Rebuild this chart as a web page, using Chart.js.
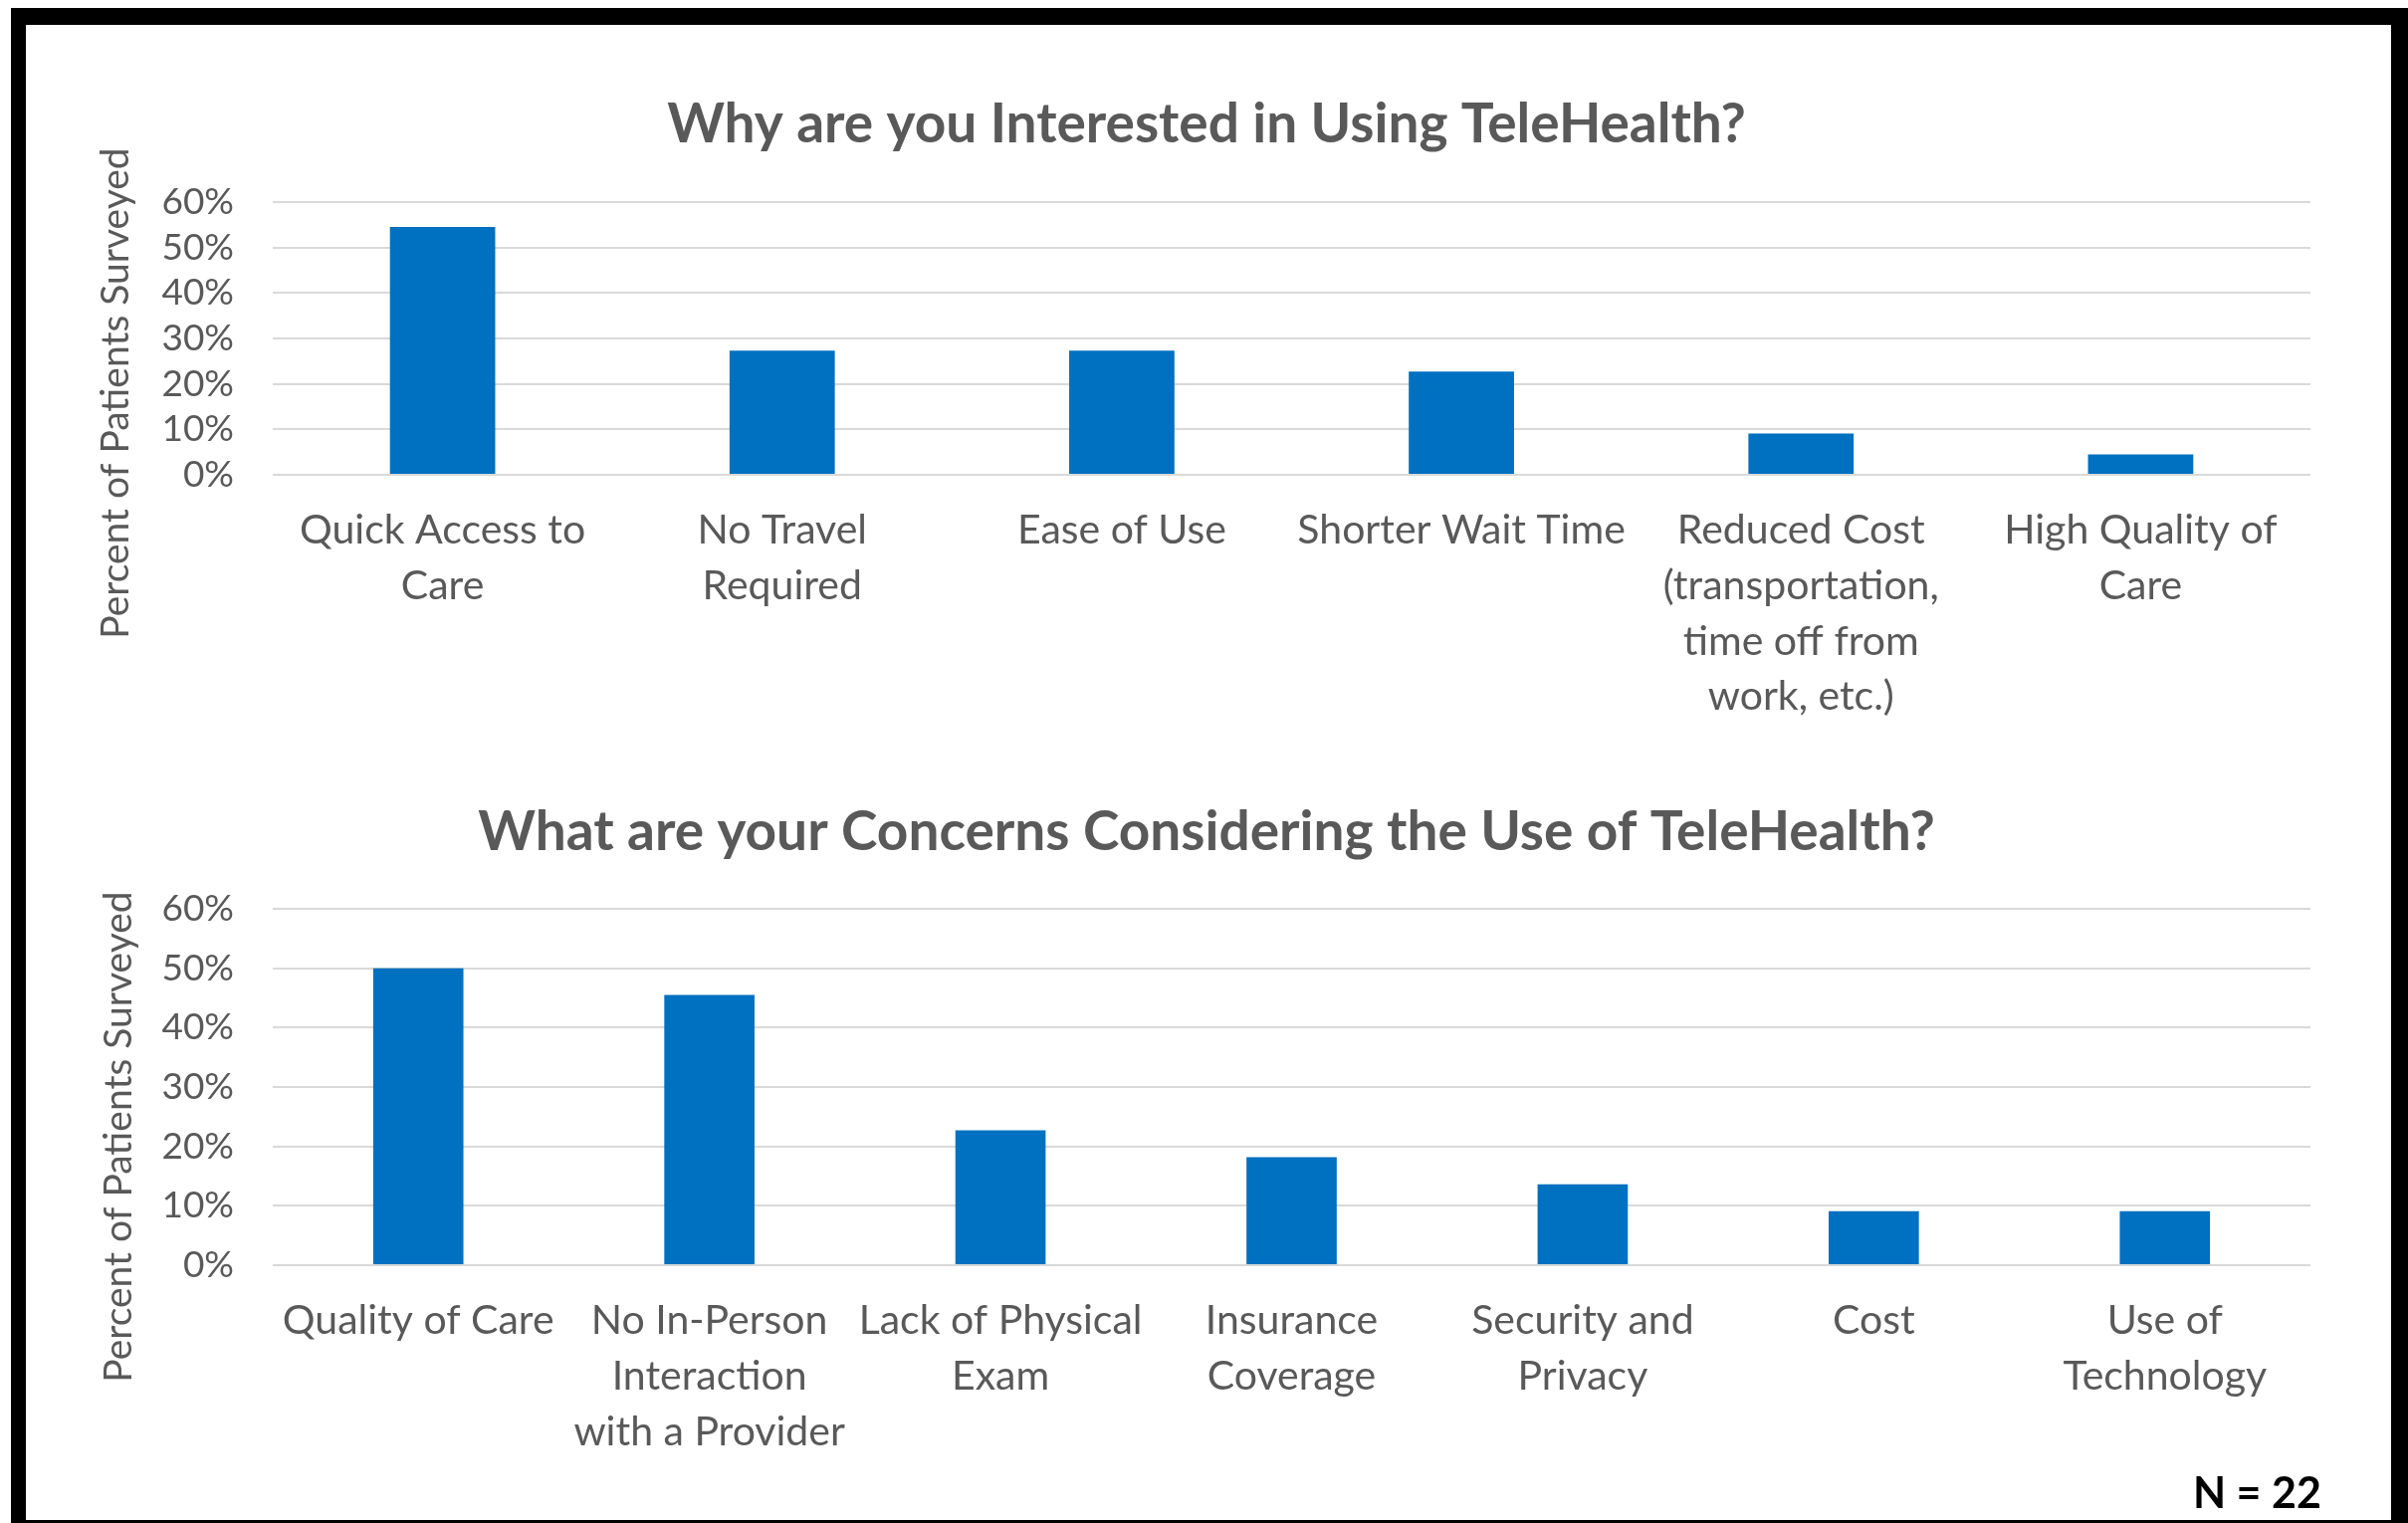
<!DOCTYPE html>
<html>
<head>
<meta charset="utf-8">
<script src="https://cdn.jsdelivr.net/npm/chart.js@4.4.1/dist/chart.umd.min.js"></script>
<style>
  html, body { margin: 0; padding: 0; background: #fff; }
  body { width: 2419px; height: 1530px; position: relative; overflow: hidden; }
  .frame {
    position: absolute; left: 11px; top: 8px; width: 2408px; height: 1522px;
    box-sizing: border-box; border-style: solid; border-color: #000;
    border-width: 17px 17px 3px 15px;
  }
  canvas { position: absolute; left: 0; }
  #interest { top: 0; }
  #concern { top: 765px; }
  .n { position: absolute; left: 2203px; top: 1473px; font: bold 43px Lato; color: #000; }
</style>
</head>
<body>
<div class="frame"></div>
<canvas id="interest" width="2419" height="765"></canvas>
<canvas id="concern" width="2419" height="765"></canvas>
<div class="n">N = 22</div>
<script>
// survey results, percent of the 22 patients
const interestLabels = [
  ['Quick Access to', 'Care'],
  ['No Travel', 'Required'],
  ['Ease of Use'],
  ['Shorter Wait Time'],
  ['Reduced Cost', '(transportation,', 'time off from', 'work, etc.)'],
  ['High Quality of', 'Care']
];
const interestValues = [54.5, 27.3, 27.3, 22.7, 9.1, 4.5];

const concernLabels = [
  ['Quality of Care'],
  ['No In-Person', 'Interaction', 'with a Provider'],
  ['Lack of Physical', 'Exam'],
  ['Insurance', 'Coverage'],
  ['Security and', 'Privacy'],
  ['Cost'],
  ['Use of', 'Technology']
];
const concernValues = [50.0, 45.5, 22.7, 18.2, 13.6, 9.1, 9.1];

const yMax = 60;
const yStep = 10;

const grey = '#595959';
const barBlue = '#0070C0';

// chart title + rotated axis title drawn at fixed spots
const overlayText = {
  id: 'overlayText',
  afterDraw(chart, args, opts) {
    const ctx = chart.ctx;
    ctx.save();
    ctx.fillStyle = grey;
    ctx.textAlign = 'center';
    ctx.textBaseline = 'middle';
    ctx.font = 'bold 55px Lato';
    ctx.fillText(opts.title, opts.titleX, opts.titleY);
    ctx.translate(opts.axisX, opts.axisY);
    ctx.rotate(-Math.PI / 2);
    ctx.font = '39px Lato';
    ctx.fillText(opts.axisTitle, 0, 0);
    ctx.restore();
  }
};

function makeChart(id, labels, values, cfg) {
  return new Chart(document.getElementById(id), {
    type: 'bar',
    data: {
      labels: labels,
      datasets: [{
        data: values,
        backgroundColor: barBlue,
        categoryPercentage: 1,
        barPercentage: 0.31
      }]
    },
    options: {
      responsive: false,
      animation: false,
      devicePixelRatio: 1,
      layout: { padding: { top: cfg.top, right: 98, left: 0, bottom: 0 } },
      plugins: {
        legend: { display: false },
        tooltip: { enabled: false },
        overlayText: cfg.text
      },
      scales: {
        x: {
          grid: { display: false },
          border: { display: false },
          ticks: {
            color: grey,
            font: { family: 'Lato', size: 41, lineHeight: 1.36 },
            padding: 20,
            maxRotation: 0,
            autoSkip: false
          },
          afterFit: s => { s.height = cfg.xHeight; }
        },
        y: {
          min: 0,
          max: yMax,
          grid: { color: '#D9D9D9', lineWidth: 2, drawTicks: false },
          border: { display: false },
          ticks: {
            stepSize: yStep,
            autoSkip: false,
            color: grey,
            font: { family: 'Lato', size: 37 },
            padding: 39,
            callback: v => v + '%'
          },
          afterFit: s => { s.width = 274; }
        }
      }
    },
    plugins: [overlayText]
  });
}

makeChart('interest', interestLabels, interestValues, {
  top: 203,
  xHeight: 288,
  text: {
    title: 'Why are you Interested in Using TeleHealth?',
    titleX: 1212, titleY: 125,
    axisTitle: 'Percent of Patients Surveyed',
    axisX: 116, axisY: 395
  }
});

makeChart('concern', concernLabels, concernValues, {
  top: 148,
  xHeight: 259,
  text: {
    title: 'What are your Concerns Considering the Use of TeleHealth?',
    titleX: 1212, titleY: 71,
    axisTitle: 'Percent of Patients Surveyed',
    axisX: 119, axisY: 377
  }
});
</script>
</body>
</html>
